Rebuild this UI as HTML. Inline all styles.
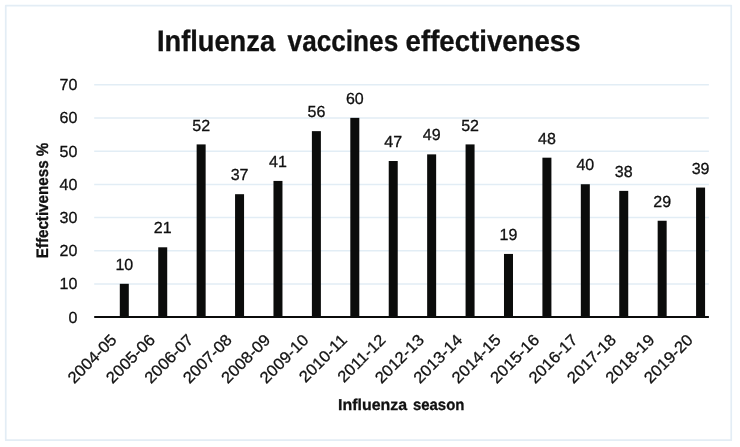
<!DOCTYPE html>
<html><head><meta charset="utf-8"><title>Influenza vaccines effectiveness</title>
<style>html,body{margin:0;padding:0;background:#fff;}body{width:740px;height:447px;overflow:hidden;}svg{display:block;}text{font-family:"Liberation Sans",sans-serif;fill:#111;stroke:#111;stroke-width:0.3px;text-rendering:geometricPrecision;}</style></head><body>
<svg width="740" height="447" viewBox="0 0 740 447">
<rect x="0" y="0" width="740" height="447" fill="#ffffff"/>
<rect x="5.75" y="5.6" width="725.5" height="434.6" fill="none" stroke="#e3edf5" stroke-width="1.7" stroke-linejoin="round"/>
<line x1="94.2" y1="283.99" x2="708.9" y2="283.99" stroke="#e2edf5" stroke-width="1.5"/>
<line x1="94.2" y1="250.80" x2="708.9" y2="250.80" stroke="#e2edf5" stroke-width="1.5"/>
<line x1="94.2" y1="217.61" x2="708.9" y2="217.61" stroke="#e2edf5" stroke-width="1.5"/>
<line x1="94.2" y1="184.42" x2="708.9" y2="184.42" stroke="#e2edf5" stroke-width="1.5"/>
<line x1="94.2" y1="151.23" x2="708.9" y2="151.23" stroke="#e2edf5" stroke-width="1.5"/>
<line x1="94.2" y1="118.04" x2="708.9" y2="118.04" stroke="#e2edf5" stroke-width="1.5"/>
<line x1="94.2" y1="84.85" x2="708.9" y2="84.85" stroke="#e2edf5" stroke-width="1.5"/>
<rect x="119.80" y="283.81" width="9.0" height="33.19" fill="#0b0c0b"/>
<rect x="158.22" y="247.30" width="9.0" height="69.70" fill="#0b0c0b"/>
<rect x="196.64" y="144.41" width="9.0" height="172.59" fill="#0b0c0b"/>
<rect x="235.06" y="194.20" width="9.0" height="122.80" fill="#0b0c0b"/>
<rect x="273.47" y="180.92" width="9.0" height="136.08" fill="#0b0c0b"/>
<rect x="311.89" y="131.14" width="9.0" height="185.86" fill="#0b0c0b"/>
<rect x="350.31" y="117.86" width="9.0" height="199.14" fill="#0b0c0b"/>
<rect x="388.73" y="161.01" width="9.0" height="155.99" fill="#0b0c0b"/>
<rect x="427.15" y="154.37" width="9.0" height="162.63" fill="#0b0c0b"/>
<rect x="465.57" y="144.41" width="9.0" height="172.59" fill="#0b0c0b"/>
<rect x="503.99" y="253.94" width="9.0" height="63.06" fill="#0b0c0b"/>
<rect x="542.41" y="157.69" width="9.0" height="159.31" fill="#0b0c0b"/>
<rect x="580.82" y="184.24" width="9.0" height="132.76" fill="#0b0c0b"/>
<rect x="619.24" y="190.88" width="9.0" height="126.12" fill="#0b0c0b"/>
<rect x="657.66" y="220.75" width="9.0" height="96.25" fill="#0b0c0b"/>
<rect x="696.08" y="187.56" width="9.0" height="129.44" fill="#0b0c0b"/>
<line x1="94.2" y1="317.0" x2="708.9" y2="317.0" stroke="#0b0c0b" stroke-width="2.2"/>
<g opacity="0.999">
<text x="77.3" y="322.55" font-size="16.0" text-anchor="end">0</text>
<text x="77.3" y="289.36" font-size="16.0" text-anchor="end">10</text>
<text x="77.3" y="256.17" font-size="16.0" text-anchor="end">20</text>
<text x="77.3" y="222.98" font-size="16.0" text-anchor="end">30</text>
<text x="77.3" y="189.79" font-size="16.0" text-anchor="end">40</text>
<text x="77.3" y="156.60" font-size="16.0" text-anchor="end">50</text>
<text x="77.3" y="123.41" font-size="16.0" text-anchor="end">60</text>
<text x="77.3" y="90.22" font-size="16.0" text-anchor="end">70</text>
<text x="124.30" y="269.91" font-size="16.0" text-anchor="middle">10</text>
<text x="162.72" y="233.40" font-size="16.0" text-anchor="middle">21</text>
<text x="201.14" y="130.51" font-size="16.0" text-anchor="middle">52</text>
<text x="239.56" y="180.30" font-size="16.0" text-anchor="middle">37</text>
<text x="277.97" y="167.02" font-size="16.0" text-anchor="middle">41</text>
<text x="316.39" y="117.24" font-size="16.0" text-anchor="middle">56</text>
<text x="354.81" y="103.96" font-size="16.0" text-anchor="middle">60</text>
<text x="393.23" y="147.11" font-size="16.0" text-anchor="middle">47</text>
<text x="431.65" y="140.47" font-size="16.0" text-anchor="middle">49</text>
<text x="470.07" y="130.51" font-size="16.0" text-anchor="middle">52</text>
<text x="508.49" y="240.04" font-size="16.0" text-anchor="middle">19</text>
<text x="546.91" y="143.79" font-size="16.0" text-anchor="middle">48</text>
<text x="585.32" y="170.34" font-size="16.0" text-anchor="middle">40</text>
<text x="623.74" y="176.98" font-size="16.0" text-anchor="middle">38</text>
<text x="662.16" y="206.85" font-size="16.0" text-anchor="middle">29</text>
<text x="700.58" y="173.66" font-size="16.0" text-anchor="middle">39</text>
<text transform="translate(117.61,340.80) rotate(-45) scale(1.046,1)" font-size="16.0" text-anchor="end">2004-05</text>
<text transform="translate(156.03,340.80) rotate(-45) scale(1.046,1)" font-size="16.0" text-anchor="end">2005-06</text>
<text transform="translate(194.45,340.80) rotate(-45) scale(1.046,1)" font-size="16.0" text-anchor="end">2006-07</text>
<text transform="translate(232.87,340.80) rotate(-45) scale(1.046,1)" font-size="16.0" text-anchor="end">2007-08</text>
<text transform="translate(271.28,340.80) rotate(-45) scale(1.046,1)" font-size="16.0" text-anchor="end">2008-09</text>
<text transform="translate(309.70,340.80) rotate(-45) scale(1.046,1)" font-size="16.0" text-anchor="end">2009-10</text>
<text transform="translate(348.12,340.80) rotate(-45) scale(1.046,1)" font-size="16.0" text-anchor="end">2010-11</text>
<text transform="translate(386.54,340.80) rotate(-45) scale(1.046,1)" font-size="16.0" text-anchor="end">2011-12</text>
<text transform="translate(424.96,340.80) rotate(-45) scale(1.046,1)" font-size="16.0" text-anchor="end">2012-13</text>
<text transform="translate(463.38,340.80) rotate(-45) scale(1.046,1)" font-size="16.0" text-anchor="end">2013-14</text>
<text transform="translate(501.80,340.80) rotate(-45) scale(1.046,1)" font-size="16.0" text-anchor="end">2014-15</text>
<text transform="translate(540.22,340.80) rotate(-45) scale(1.046,1)" font-size="16.0" text-anchor="end">2015-16</text>
<text transform="translate(578.63,340.80) rotate(-45) scale(1.046,1)" font-size="16.0" text-anchor="end">2016-17</text>
<text transform="translate(617.05,340.80) rotate(-45) scale(1.046,1)" font-size="16.0" text-anchor="end">2017-18</text>
<text transform="translate(655.47,340.80) rotate(-45) scale(1.046,1)" font-size="16.0" text-anchor="end">2018-19</text>
<text transform="translate(693.89,340.80) rotate(-45) scale(1.046,1)" font-size="16.0" text-anchor="end">2019-20</text>
<g font-size="29.6" font-weight="bold">
<text x="156.9" y="50.9" textLength="118.2" lengthAdjust="spacingAndGlyphs">Influenza</text>
<text x="287.6" y="50.9" textLength="110.6" lengthAdjust="spacingAndGlyphs">vaccines</text>
<text x="405.6" y="50.9" textLength="174.9" lengthAdjust="spacingAndGlyphs">effectiveness</text>
</g>
<g font-size="15.8" font-weight="bold">
<text x="338.1" y="410.4" textLength="69.0" lengthAdjust="spacingAndGlyphs">Influenza</text>
<text x="412.9" y="410.4" textLength="51.5" lengthAdjust="spacingAndGlyphs">season</text>
</g>
<text transform="translate(48.25,200.5) rotate(-90)" font-size="16.6" font-weight="bold" text-anchor="middle" textLength="115.6" lengthAdjust="spacingAndGlyphs">Effectiveness %</text>
</g>
</svg></body></html>
